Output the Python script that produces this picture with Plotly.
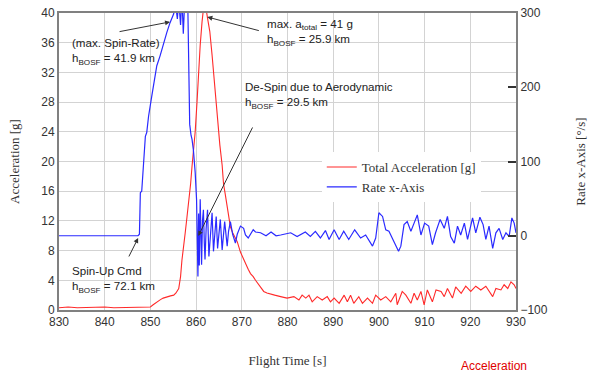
import plotly.graph_objects as go

# ---------------- data ----------------
time_accel = [830, 832, 834, 836, 838, 840, 842, 844, 846, 848, 850, 850.6, 851.4, 852.2, 852.8,
              853.6, 854.4, 855.1, 855.6, 856.2, 856.6, 856.9, 857.3, 857.6, 858.0, 858.4, 858.8,
              859.1, 859.5, 859.8, 860.2, 860.5, 860.9, 861.3, 861.6, 861.9, 862.2, 862.5, 863.0,
              863.5, 863.8, 864.2, 864.7, 865.2, 865.7, 866.0, 866.4, 866.8, 867.2, 867.5, 868.0,
              868.6, 869.0, 869.7, 870.3, 870.8, 871.4, 871.9, 872.5, 873.0, 873.6, 874.1, 874.8,
              875.5, 876.3, 877.2, 878.5, 879.9, 881.4, 882.5, 883.2, 884.0, 884.7, 885.4, 886.5,
              887.6, 888.7, 889.4, 890.2, 891.3, 892.4, 893.1, 893.8, 894.5, 895.6, 896.4, 897.5,
              898.6, 899.3, 900.4, 901.5, 902.6, 903.7, 904.0, 905.1, 905.9, 907.0, 907.7, 908.4,
              909.2, 909.9, 910.6, 911.7, 912.5, 913.6, 914.3, 915.0, 916.1, 916.8, 918.0, 919.0,
              920.1, 921.2, 922.3, 923.4, 924.9, 925.6, 926.7, 927.4, 928.2, 928.9, 929.6, 930.0]
total_accel = [0.3, 0.4, 0.3, 0.35, 0.3, 0.4, 0.3, 0.35, 0.3, 0.4, 0.4, 0.7, 1.1, 1.4, 1.6,
               1.8, 1.9, 2.0, 2.3, 2.9, 4.5, 6.7, 8.5, 10.3, 12.5, 14.4, 17.0,
               19.3, 21.5, 24.0, 28.0, 32.0, 35.7, 38.8, 40.5, 41.0, 40.5, 39.3, 37.5,
               34.3, 32.1, 29.0, 25.4, 22.2, 19.5, 17.0, 15.5, 13.9, 12.3, 11.2, 10.4,
               9.7, 9.2, 7.8, 6.9, 6.3, 5.5, 4.9, 4.5, 4.0, 3.5, 3.1, 2.5,
               2.3, 2.2, 2.0, 1.8, 1.6, 1.8, 1.35, 2.0, 1.6, 2.0, 1.1, 1.8,
               1.35, 1.8, 1.1, 1.6, 0.9, 2.0, 1.1, 2.0, 0.9, 1.8, 0.9, 1.6,
               0.9, 2.0, 1.35, 1.8, 1.1, 2.25, 0.7, 2.5, 2.0, 0.9, 2.25, 1.35,
               2.5, 0.7, 2.7, 1.1, 2.7, 2.5, 1.8, 2.9, 1.6, 3.1, 2.25, 3.2,
               2.5, 3.2, 2.7, 3.2, 1.8, 2.9, 2.7, 3.4, 2.9, 3.8, 3.4, 2.9]

time_rate = [830, 835, 840, 845, 847.3, 847.6, 847.8, 848.1, 848.5, 848.9, 849.2, 849.6, 850.3,
             851.1, 851.4, 852.1, 852.9, 853.6, 854.3, 855.1, 855.5, 855.9, 856.2, 856.6, 856.9,
             857.2, 857.5, 857.9, 858.2, 858.4, 858.6, 858.9, 859.1, 859.4, 859.8, 860.1, 860.25,
             860.4, 860.55, 860.7, 860.9, 861.05, 861.2, 861.4, 861.6, 861.8, 861.95, 862.2, 862.5,
             862.8, 863.1, 863.5, 863.8, 864.1, 864.4, 864.7, 865.0, 865.3, 865.7, 866.0, 866.25,
             866.8, 867.1, 867.5, 868.0, 868.6, 869.0, 869.7, 870.4, 870.8, 871.4, 872.5, 873.0,
             874.1, 875.3, 876.4, 877.5, 878.5, 880.7, 882.1, 883.9, 885.0, 886.1, 887.2, 888.3,
             889.1, 890.2, 891.3, 892.3, 893.4, 894.7, 896.0, 897.1, 898.6, 899.3, 900.0, 900.8,
             901.5, 902.2, 903.3, 904.3, 904.8, 905.5, 906.2, 907.0, 907.7, 908.4, 909.2, 910.0,
             910.9, 911.7, 912.4, 913.4, 914.3, 915.0, 915.7, 916.5, 917.2, 917.9, 918.7, 919.4,
             920.5, 921.2, 922.1, 922.8, 923.4, 924.1, 924.9, 925.6, 926.3, 927.1, 927.8, 928.5,
             929.1, 929.6, 930.0]
rate_x = [0, 0, 0, 0, 0, 2, 58, 60, 103, 134, 139, 161, 188,
          215, 229, 242, 260, 274, 287, 299, 312, 292, 318, 284, 322,
          272, 315, 330, 305, 200, 150, 135, 130, 116, 85, 49, -20,
          -55, 30, -40, 49, -10, -39, 20, 35, -10, -32, 10, 35,
          -28, 5, 31, -21, 10, 26, -17, 8, 22, -19, 5, 19,
          -14, 6, 19, 2, -10, 2, 13, 10, 1, -3, 8, 5,
          4, 0, 5, 0, 1, 4, -1, 5, -1, 6, -3, 7,
          -5, 8, -5, 6, -5, 8, -3, 1, -14, -3, 31, 26,
          8, 6, -8, -21, -14, 15, 19, 6, 17, 28, 1, 17,
          13, -12, 4, 22, 10, 26, -1, -10, 13, 1, 17, -5,
          24, 4, 25, 15, -5, 13, -17, 4, 10, -5, 4, -1,
          24, 17, 4]

x_ticks = [830, 840, 850, 860, 870, 880, 890, 900, 910, 920, 930]
y_ticks = [0, 4, 8, 12, 16, 20, 24, 28, 32, 36, 40]
y2_ticks = [-100, 0, 100, 200, 300]

# ---------------- figure ----------------
SANS = "Liberation Sans, Arial, sans-serif"
SERIF = "Liberation Serif, Times New Roman, serif"
FRAME = "#808080"
GRID = "#d3d3d3"
TXT = "#333333"

fig = go.Figure()
fig.add_trace(go.Scatter(x=time_accel, y=total_accel, mode="lines", name="Total Acceleration [g]",
                         line=dict(color="#ff2a2a", width=1.1), yaxis="y"))
fig.add_trace(go.Scatter(x=time_rate, y=rate_x, mode="lines", name="Rate x-Axis",
                         line=dict(color="#2a2aff", width=1.2), yaxis="y2"))

fig.update_layout(
    width=589, height=374,
    margin=dict(l=59, r=73, t=13, b=64, autoexpand=False),
    paper_bgcolor="white", plot_bgcolor="white",
    showlegend=True,
    legend=dict(x=0.575, y=0.532, xanchor="left", yanchor="top",
                bgcolor="white", borderwidth=0,
                font=dict(family=SERIF, size=13, color=TXT),
                tracegroupgap=0),
    xaxis=dict(range=[830, 930], tickmode="array", tickvals=x_ticks, automargin=False,
               ticklabeloverflow="allow",
               showgrid=True, gridcolor=GRID, gridwidth=1.3, zeroline=False,
               showline=True, linecolor=FRAME, linewidth=2, mirror=True, ticks="",
               tickfont=dict(family=SANS, size=12, color=TXT),
               title=dict(text="Flight Time [s]", font=dict(family=SERIF, size=13, color=TXT),
                          standoff=27)),
    yaxis=dict(range=[0, 40], tickmode="array", tickvals=y_ticks, automargin=False,
               ticklabeloverflow="allow",
               showgrid=True, gridcolor=GRID, gridwidth=1.3, zeroline=False,
               showline=True, linecolor=FRAME, linewidth=2, mirror=True, ticks="",
               tickfont=dict(family=SANS, size=12, color=TXT),
               title=dict(text="Acceleration [g]", font=dict(family=SERIF, size=13, color=TXT),
                          standoff=19)),
    yaxis2=dict(range=[-100, 300], tickmode="array", tickvals=y2_ticks, overlaying="y", side="right",
                automargin=False, ticklabeloverflow="allow",
                showgrid=False, zeroline=False, showline=True, linecolor=FRAME, linewidth=2,
                ticks="inside", ticklen=8, tickwidth=1.5, tickcolor=TXT,
                tickfont=dict(family=SANS, size=12, color=TXT),
                title=dict(text="Rate x-Axis [°/s]", font=dict(family=SERIF, size=13, color=TXT),
                           standoff=29)),
)

text_font = dict(family=SANS, size=11.6, color="#222222")
notes = [
    ("(max. Spin-Rate)<br>h<sub>BOSF</sub> = 41.9 km", 0.024, 0.929),
    ("max. a<sub>total</sub> = 41 g<br>h<sub>BOSF</sub> = 25.9 km", 0.451, 0.993),
    ("De-Spin due to Aerodynamic<br>h<sub>BOSF</sub> = 29.5 km", 0.403, 0.781),
    ("Spin-Up Cmd<br>h<sub>BOSF</sub> = 72.1 km", 0.024, 0.161),
]
for txt, px, py in notes:
    fig.add_annotation(text=txt, xref="paper", yref="paper", x=px, y=py, xanchor="left",
                       yanchor="top", align="left", showarrow=False, font=text_font)

arrows = [(854.3, 38.8, -52, 10), (862.46, 39.46, 53, 14), (860.48, 9.97, 55, -110), (847.32, 9.7, -10, 20)]
for hx, hy, ax, ay in arrows:
    fig.add_annotation(x=hx, y=hy, xref="x", yref="y", ax=ax, ay=ay, text="", showarrow=True,
                       arrowhead=2, arrowsize=1, arrowwidth=1, arrowcolor=TXT)

fig.add_annotation(text="Acceleration", xref="paper", yref="paper", x=0.952, y=-0.189,
                   xanchor="center", yanchor="middle", showarrow=False,
                   font=dict(family=SANS, size=12, color="#e00000"))

fig.write_html("out.html", config={"displayModeBar": False},
               post_script="document.body.style.margin='0';")
